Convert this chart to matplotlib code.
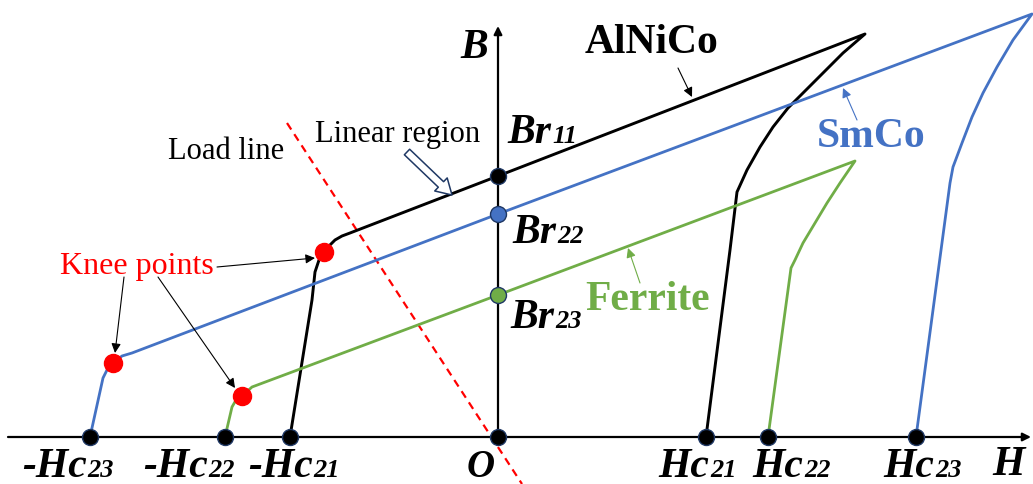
import matplotlib.pyplot as plt
from matplotlib.patches import FancyArrowPatch

# Demagnetisation curves in the (H, B) plane, origin at O
alnico_h = [-208, -186, -183, -179, -174, -168, -163, -156, -148, 0, 367,
            345, 325, 305, 290, 275, 262, 249, 239, 232, 208]
alnico_b = [0, 137, 165, 177, 185, 192, 197, 201, 204, 261, 403,
            384, 364, 344, 329, 310, 290, 267, 245, 187, 0]

smco_h = [-408, -395, -390, -385, -376, -366, 0, 534, 515, 499, 485, 474,
          464, 455, 452, 418]
smco_b = [0, 59, 69, 74, 81, 84, 223, 423, 397, 370, 344, 320,
          294, 270, 254, 0]

ferrite_h = [-273, -266, -262, -256, -246, 0, 357, 342, 329, 317, 305, 297,
             293, 270]
ferrite_b = [0, 30, 37, 41, 50, 142, 276, 254, 234, 214, 194, 177,
             169, 0]

# remanence and coercivity points (AlNiCo, SmCo, Ferrite)
br_values = [261, 223, 142]
br_labels = ['11', '22', '23']
hc_pos = [208, 270, 418]
hc_neg = [-208, -273, -408]
hc_labels = ['21', '22', '23']

# knee points (SmCo, AlNiCo, Ferrite)
knee_h = [-385, -174, -256]
knee_b = [74, 185, 41]

# load line end points
load_h = [-211, 24]
load_b = [314, -47]

BLUE = '#4472C4'
GREEN = '#70AD47'
NAVY = '#1F3864'
SERIF = 'Liberation Serif'

fig = plt.figure(figsize=(10.33, 4.84), dpi=100)
ax = fig.add_axes([0, 0, 1, 1])
ax.set_xlim(-498, 535)
ax.set_ylim(-47, 437)
ax.axis('off')

# axes with arrow heads
ax.annotate('', xy=(533, 0), xytext=(-490, 0),
            arrowprops=dict(arrowstyle='-|>', color='black', lw=1.6,
                            mutation_scale=12, shrinkA=0, shrinkB=0))
ax.annotate('', xy=(0, 411), xytext=(0, 0),
            arrowprops=dict(arrowstyle='-|>', color='black', lw=1.6,
                            mutation_scale=12, shrinkA=0, shrinkB=0))

ax.plot(load_h, load_b, color='red', lw=1.6, dashes=(3.5, 2.5))

ax.plot(alnico_h, alnico_b, color='black', lw=2.1, solid_joinstyle='round')
ax.plot(smco_h, smco_b, color=BLUE, lw=2.0, solid_joinstyle='round')
ax.plot(ferrite_h, ferrite_b, color=GREEN, lw=2.0, solid_joinstyle='round')

# intercept markers
for h in hc_pos + hc_neg + [0]:
    ax.plot(h, 0, 'o', ms=11.5, mfc='black', mec=NAVY, mew=1.0, zorder=5)
for b, c in zip(br_values, ['black', BLUE, GREEN]):
    ax.plot(0, b, 'o', ms=11.5, mfc=c, mec=NAVY, mew=1.0, zorder=5)
ax.plot(knee_h, knee_b, 'o', ms=13, mfc='red', mec='red', zorder=5, ls='none')

fig.canvas.draw()
renderer = fig.canvas.get_renderer()


def label(x, y, main, sub='', size=30, subsize=19):
    t = ax.text(x, y, main, ha='left', va='baseline', fontsize=size,
                family=SERIF, weight='bold', style='italic')
    if sub:
        bb = t.get_window_extent(renderer)
        x1 = ax.transData.inverted().transform((bb.x1, bb.y0))[0]
        ax.text(x1 + 1, y, sub, ha='left', va='baseline', fontsize=subsize,
                family=SERIF, weight='bold', style='italic')


label(-38, 379, 'B')
label(494, -38, 'H')
label(-31, -40, 'O', size=28)
label(9, 294, 'Br', br_labels[0])
label(14, 194, 'Br', br_labels[1])
label(12, 109, 'Br', br_labels[2])

for h, s in zip([-476, -355, -250], reversed(hc_labels)):
    label(h, -40, '-Hc', s)
for h, s in zip([160, 254, 385], hc_labels):
    label(h, -40, 'Hc', s)

# material names
ax.text(87, 384, 'AlNiCo', fontsize=30, family=SERIF, weight='bold',
        ha='left', va='baseline')
ax.text(319, 290, 'SmCo', fontsize=30, family=SERIF, weight='bold',
        color=BLUE, ha='left', va='baseline')
ax.text(87, 127, 'Ferrite', fontsize=30, family=SERIF, weight='bold',
        color=GREEN, ha='left', va='baseline')

arrow = dict(arrowstyle='-|>', lw=0.8, mutation_scale=14, shrinkA=0, shrinkB=0)
ax.annotate('', xy=(194, 340), xytext=(180, 369),
            arrowprops=dict(arrow, color='black'))
ax.annotate('', xy=(345, 349), xytext=(359, 317),
            arrowprops=dict(arrow, color=BLUE))
ax.annotate('', xy=(130, 189), xytext=(142, 154),
            arrowprops=dict(arrow, color=GREEN))

ax.text(-183, 295, 'Linear region', fontsize=22, family=SERIF,
        ha='left', va='baseline')
ax.text(-330, 278, 'Load line', fontsize=22, family=SERIF,
        ha='left', va='baseline')
ax.add_patch(FancyArrowPatch((-91, 285), (-46, 242),
                             arrowstyle='simple,head_width=1.3,tail_width=0.55,head_length=1.1',
                             mutation_scale=10, fc='white', ec=NAVY, lw=1.1,
                             shrinkA=0, shrinkB=0, zorder=4))

ax.text(-438, 163, 'Knee points', fontsize=23, family=SERIF, color='red',
        ha='left', va='baseline')
for tail, head in [((-374, 160), (-383, 84)),
                   ((-340, 160), (-263, 49)),
                   ((-281, 170), (-183, 179))]:
    ax.annotate('', xy=head, xytext=tail, arrowprops=dict(arrow, color='black'))

fig.savefig('out.png', dpi=100)
